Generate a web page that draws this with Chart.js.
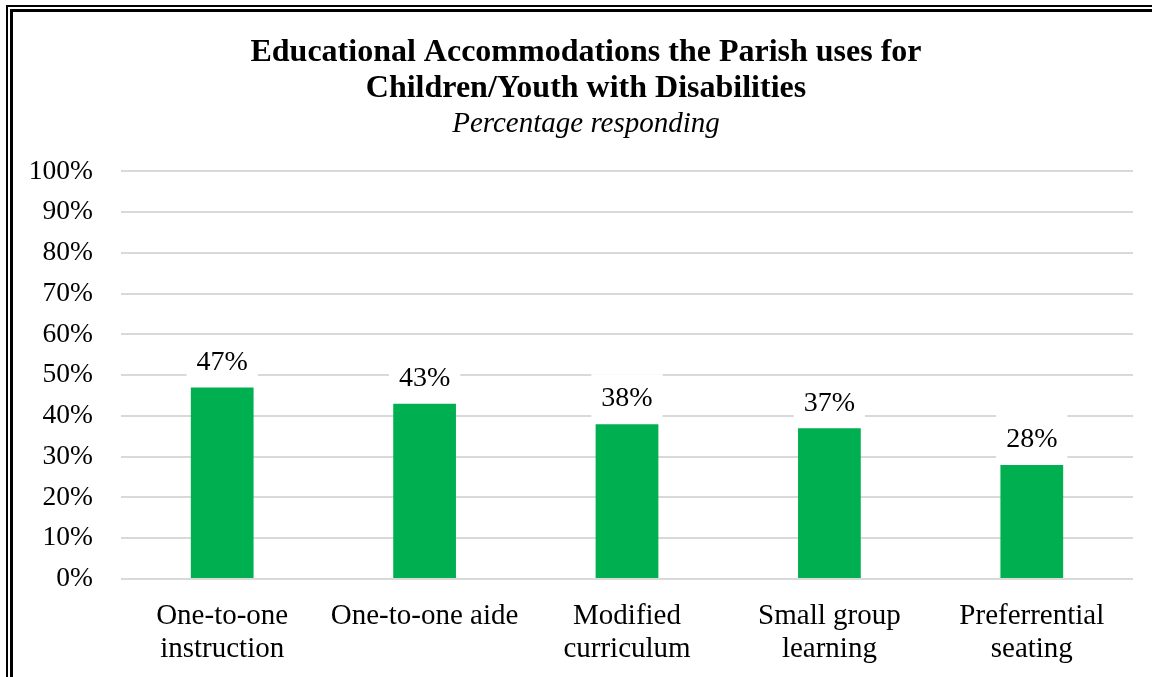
<!DOCTYPE html>
<html>
<head>
<meta charset="utf-8">
<script src="https://cdn.jsdelivr.net/npm/chart.js@4"></script>
<style>
  html, body { margin: 0; padding: 0; background: #fff; overflow: hidden; }
  #wrap { position: absolute; left: 0; top: 0; width: 1152px; height: 677px; }
  .frame { position: absolute; pointer-events: none; }
  #outer { left: 6px; top: 5px; width: 1200px; height: 720px; border-left: 2px solid #000; border-top: 2px solid #000; }
  #inner { left: 10px; top: 9px; width: 1200px; height: 720px; border-left: 3px solid #000; border-top: 3px solid #000; }
</style>
</head>
<body>
<div id="wrap"><canvas id="c" width="1152" height="677"></canvas></div>
<div class="frame" id="outer"></div>
<div class="frame" id="inner"></div>
<script>
const titleLines = ['Educational Accommodations the Parish uses for', 'Children/Youth with Disabilities'];
const subtitleText = 'Percentage responding';
const categories = [
  ['One-to-one', 'instruction'],
  ['One-to-one aide'],
  ['Modified', 'curriculum'],
  ['Small group', 'learning'],
  ['Preferrential', 'seating']
];
const values = [47, 43, 38, 37, 28];
const yTicks = [0, 10, 20, 30, 40, 50, 60, 70, 80, 90, 100];

const FONT = "'Liberation Serif', 'Times New Roman', serif";

const labelPlugin = {
  id: 'valueLabels',
  afterDatasetsDraw(chart) {
    const ctx = chart.ctx;
    const meta = chart.getDatasetMeta(0);
    ctx.save();
    ctx.font = '28px ' + FONT;
    ctx.textAlign = 'center';
    ctx.textBaseline = 'middle';
    meta.data.forEach((bar, i) => {
      const txt = values[i] + '%';
      const w = ctx.measureText(txt).width + 20;
      ctx.fillStyle = '#ffffff';
      ctx.fillRect(bar.x - w / 2, bar.y - 50, w, 48);
      ctx.fillStyle = '#000000';
      ctx.fillText(txt, bar.x, bar.y - 25);
    });
    ctx.restore();
  }
};

new Chart(document.getElementById('c'), {
  type: 'bar',
  data: {
    labels: categories,
    datasets: [{
      data: values,
      backgroundColor: '#00B050',
      borderWidth: 0,
      barPercentage: 0.31,
      categoryPercentage: 1.0
    }]
  },
  options: {
    responsive: false,
    animation: false,
    devicePixelRatio: 1,
    layout: { padding: { left: 20, right: 0, top: 0, bottom: 0 } },
    plugins: {
      legend: { display: false },
      tooltip: { enabled: false },
      title: {
        display: true,
        text: titleLines,
        color: '#000',
        font: { family: FONT, size: 32, weight: 'bold', lineHeight: 1.11 },
        padding: { top: 35, bottom: 0 }
      },
      subtitle: {
        display: true,
        text: subtitleText,
        color: '#000',
        font: { family: FONT, size: 29, style: 'italic', lineHeight: 1.2 },
        padding: { top: 1, bottom: 29.6 }
      }
    },
    scales: {
      x: {
        grid: { display: false },
        border: { display: false },
        afterFit(scale) { scale.height = 98; },
        ticks: {
          color: '#000',
          font: { family: FONT, size: 29, lineHeight: 1.14 },
          padding: 13,
          maxRotation: 0,
          autoSkip: false
        }
      },
      y: {
        min: 0,
        max: 100,
        afterBuildTicks(scale) { scale.ticks = yTicks.map(v => ({ value: v })); },
        afterFit(scale) { scale.width = 101; },
        grid: { color: '#d9d9d9', lineWidth: 2, drawTicks: false },
        border: { display: false },
        ticks: {
          color: '#000',
          font: { family: FONT, size: 27.5 },
          padding: 28,
          callback: v => v + '%'
        }
      },
      yRight: {
        position: 'right',
        display: true,
        min: 0,
        max: 100,
        afterFit(scale) { scale.width = 19; },
        grid: { display: false, drawTicks: false },
        border: { display: false },
        ticks: { display: false }
      }
    }
  },
  plugins: [labelPlugin]
});
</script>
</body>
</html>
